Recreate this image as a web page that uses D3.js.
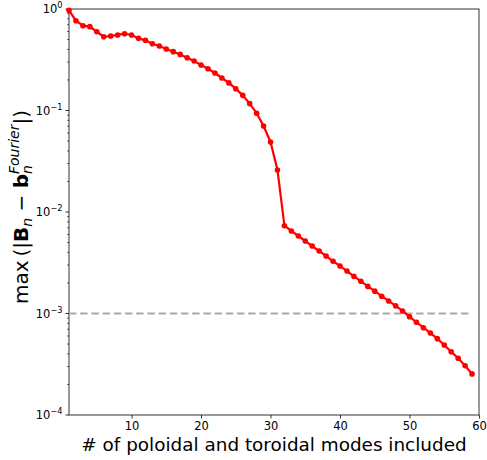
<!DOCTYPE html>
<html>
<head>
<meta charset="utf-8">
<script src="https://cdn.jsdelivr.net/npm/d3@7"></script>
<style>
  body { margin: 0; background: #fff; }
  svg { display: block; font-family: "DejaVu Sans", sans-serif; }
</style>
</head>
<body>
<svg id="chart" width="487" height="460"></svg>
<script>
// number of modes included
var modes = d3.range(1, 60);
// max error per mode count
var maxErr = [
  0.97, 0.767, 0.685, 0.67, 0.597, 0.533, 0.542, 0.555, 0.571, 0.555,
  0.514, 0.491, 0.455, 0.432, 0.404, 0.38, 0.357, 0.331, 0.307, 0.281,
  0.258, 0.234, 0.209, 0.187, 0.164, 0.141, 0.117, 0.094, 0.0704, 0.049,
  0.0259, 0.00733, 0.0065, 0.0058, 0.00518, 0.00462, 0.00413, 0.00369, 0.00327, 0.00294,
  0.00262, 0.00232, 0.00208, 0.00185, 0.00166, 0.00148, 0.00133, 0.00119, 0.00106, 0.00093,
  0.00082, 0.000725, 0.000643, 0.000565, 0.00049, 0.00042, 0.000362, 0.000306, 0.000254
];
var threshold = 1e-3;
var xTicks = [10, 20, 30, 40, 50, 60];
var yTicks = [1e-4, 1e-3, 1e-2, 1e-1, 1];
var yTickExp = ["\u22124", "\u22123", "\u22122", "\u22121", "0"];

var margin = {left: 69, right: 8, top: 9, bottom: 45};
var W = 487, H = 460;

var svg = d3.select("#chart");

var x = d3.scaleLinear().domain([1, 60]).range([margin.left, W - margin.right]);
var y = d3.scaleLog().domain([1e-4, 1]).range([H - margin.bottom, margin.top]);

//x轴
var xAxis = svg.append("g")
    .attr("transform", "translate(0," + (H - margin.bottom) + ")")
    .call(d3.axisBottom(x).tickValues(xTicks).tickSize(3.5).tickPadding(3));
xAxis.select(".domain").remove();
xAxis.selectAll("text").attr("font-size", 11.5).attr("fill", "#000").attr("font-family", "DejaVu Sans");
xAxis.selectAll("line").attr("stroke", "#000").attr("stroke-width", 0.8);

//y轴 minor ticks
var minor = [];
[1e-4, 1e-3, 1e-2, 1e-1].forEach(function (d) {
    for (var k = 2; k <= 9; k++) minor.push(d * k);
});
svg.append("g").selectAll("line.minor").data(minor).enter().append("line")
    .attr("x1", margin.left).attr("x2", margin.left - 2)
    .attr("y1", function (d) { return y(d); })
    .attr("y2", function (d) { return y(d); })
    .attr("stroke", "#000").attr("stroke-width", 0.6);

var yg = svg.append("g");
yg.selectAll("line.major").data(yTicks).enter().append("line")
    .attr("x1", margin.left).attr("x2", margin.left - 3.5)
    .attr("y1", function (d) { return y(d); })
    .attr("y2", function (d) { return y(d); })
    .attr("stroke", "#000").attr("stroke-width", 0.8);
var yl = yg.selectAll("text.ytick").data(yTicks).enter().append("text")
    .attr("class", "ytick")
    .attr("x", margin.left - 6.5)
    .attr("y", function (d) { return y(d) + 4; })
    .attr("text-anchor", "end")
    .attr("font-size", 11.5)
    .attr("fill", "#000");
yl.append("tspan").text("10");
yl.append("tspan").attr("dy", -5).attr("font-size", 8.2)
    .text(function (d, i) { return yTickExp[i]; });

//边框
svg.append("rect")
    .attr("x", margin.left).attr("y", margin.top)
    .attr("width", W - margin.right - margin.left)
    .attr("height", H - margin.bottom - margin.top)
    .attr("fill", "none").attr("stroke", "#000").attr("stroke-width", 0.8);

//阈值虚线
svg.append("line")
    .attr("x1", x(1)).attr("x2", x(59))
    .attr("y1", y(threshold)).attr("y2", y(threshold))
    .attr("stroke", "#a9a9a9").attr("stroke-width", 2)
    .attr("stroke-dasharray", "7.4,3.8");

//数据
var data = modes.map(function (m, i) { return {m: m, v: maxErr[i]}; });
svg.append("path").datum(data)
    .attr("fill", "none").attr("stroke", "#ff0000").attr("stroke-width", 2.2)
    .attr("d", d3.line().x(function (d) { return x(d.m); }).y(function (d) { return y(d.v); }));
svg.append("g").selectAll("circle").data(data).enter().append("circle")
    .attr("cx", function (d) { return x(d.m); })
    .attr("cy", function (d) { return y(d.v); })
    .attr("r", 2.8)
    .attr("fill", "#ff0000");

//轴标题
svg.append("text")
    .attr("x", (margin.left + W - margin.right) / 2)
    .attr("y", 451)
    .attr("text-anchor", "middle")
    .attr("font-size", 18.4)
    .attr("fill", "#000")
    .text("# of poloidal and toroidal modes included");

var ylab = svg.append("text")
    .attr("transform", "translate(28,207) rotate(-90)")
    .attr("font-size", 20)
    .attr("fill", "#000");
ylab.append("tspan").text("max\u2009(|");
ylab.append("tspan").attr("font-weight", "bold").text("B");
ylab.append("tspan").attr("font-style", "italic").attr("font-size", 14).attr("dy", 4).text("n");
ylab.append("tspan").attr("dy", -4).text(" \u2212 ");
ylab.append("tspan").attr("font-weight", "bold").text("b");
var subN = ylab.append("tspan").attr("font-style", "italic").attr("font-size", 14).attr("dy", 4).text("n");
var sup = ylab.append("tspan").attr("font-style", "italic").attr("font-size", 14).attr("dy", -13).text("Fourier");
var tail = ylab.append("tspan").attr("dy", 9).text("|)");
// 上标叠在下标上方
sup.attr("dx", -subN.node().getComputedTextLength());
var bb = ylab.node().getBBox();
ylab.attr("x", -bb.width / 2 - bb.x);
</script>
</body>
</html>
